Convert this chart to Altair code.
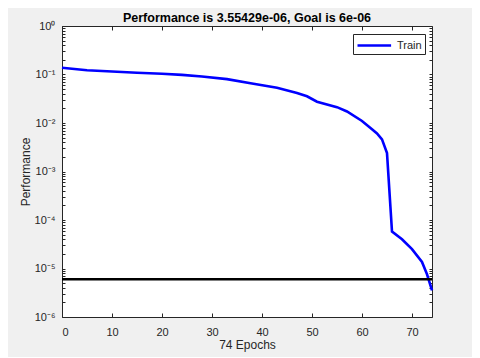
import altair as alt
import pandas as pd

# Training performance
epochs = [0, 5, 10, 15, 20, 24, 28, 33, 38, 43, 47, 49, 51, 55, 57, 60, 62, 63, 64, 65, 66, 68, 70, 72, 73, 74]
perf = [0.138, 0.122, 0.115, 0.109, 0.1035, 0.0982, 0.0912, 0.0804, 0.0653, 0.0531, 0.0417, 0.0355,
        0.0275, 0.0212, 0.0173, 0.0110, 0.0074, 0.0061, 0.0046, 0.0024, 5.75e-5, 4.0e-5,
        2.5e-5, 1.36e-5, 7.6e-6, 3.55429e-6]
goal = [6e-6]
series = ["Train"]
x_ticks = [0, 10, 20, 30, 40, 50, 60, 70]
decades = [-6, -5, -4, -3, -2, -1, 0]

df = pd.DataFrame({"epoch": epochs, "perf": perf, "series": series * len(epochs)})
goal_df = pd.DataFrame({"goal": goal})

y_values = []
for n in decades[:-1]:
    for k in range(1, 10):
        y_values.append(k * 10.0 ** n)
y_values.append(1.0)

sup = {0: "⁰", -1: "⁻¹", -2: "⁻²", -3: "⁻³", -4: "⁻⁴", -5: "⁻⁵", -6: "⁻⁶"}
e_expr = "round(log(datum.value)/LN10)"
is_major = f"abs(datum.value/pow(10,{e_expr}) - 1) < 0.001"
label = "''"
for n in decades:
    label = f"({e_expr} == {n} ? '10{sup[n]}' : {label})"
label_expr = f"{is_major} ? {label} : ''"

FONT = "Liberation Sans"
AX = "#262626"

x_scale = alt.Scale(domain=[0, 74], nice=False, zero=False)
y_scale = alt.Scale(type="log", domain=[1e-6, 1], nice=False)

line = alt.Chart(df).mark_line(strokeWidth=2.6).encode(
    x=alt.X("epoch:Q", scale=x_scale,
            axis=alt.Axis(title="74 Epochs", values=x_ticks, format="d", grid=False,
                          orient="bottom", offset=-4, tickSize=4, domain=False,
                          labelPadding=9, titlePadding=2)),
    y=alt.Y("perf:Q", scale=y_scale,
            axis=alt.Axis(title="Performance", values=y_values, labelExpr=label_expr,
                          orient="left", offset=-3, tickSize=3, domain=False,
                          grid=False, labelPadding=7, titlePadding=2)),
    color=alt.Color("series:N", scale=alt.Scale(domain=series, range=["#0000ff"]),
                    legend=alt.Legend(title=None, orient="none", legendX=291, legendY=8,
                                      symbolType="M-1,0H3.8", symbolStrokeWidth=2.6,
                                      symbolSize=196, labelFontSize=11, labelFont=FONT,
                                      labelColor=AX, strokeColor=AX, fillColor="white",
                                      padding=3, labelOffset=24, rowPadding=0)),
)

goal_rule = alt.Chart(goal_df).mark_rule(color="black", strokeWidth=2.6).encode(
    x=alt.X(datum=0, scale=x_scale,
            axis=alt.Axis(title=None, values=x_ticks, labels=False, orient="top",
                          offset=-4, tickSize=4, domain=False, grid=False)),
    x2=alt.X2(datum=74),
    y=alt.Y("goal:Q", scale=y_scale,
            axis=alt.Axis(title=None, values=y_values, labels=False, orient="right",
                          offset=-3, tickSize=3, domain=False, grid=False)),
)

chart = alt.layer(line, goal_rule).resolve_scale(
    x="independent", y="independent"
).properties(
    width=370, height=291,
    title=alt.Title("Performance is 3.55429e-06, Goal is 6e-06", fontSize=12.5,
                    fontWeight="bold", font=FONT, color="black", offset=5, dy=9),
    autosize=alt.AutoSizeParams(type="none"),
    padding={"left": 54, "top": 18, "right": 40, "bottom": 40},
).configure(background="#f0f0f0").configure_view(
    fill="white", stroke=AX, strokeWidth=1
).configure_axis(
    labelFont=FONT, titleFont=FONT, labelFontSize=11, titleFontSize=12,
    labelColor=AX, titleColor=AX, titleFontWeight="normal",
    domainColor=AX, tickColor=AX
)

chart.save("out.html", embed_options={"renderer": "svg", "actions": False})
